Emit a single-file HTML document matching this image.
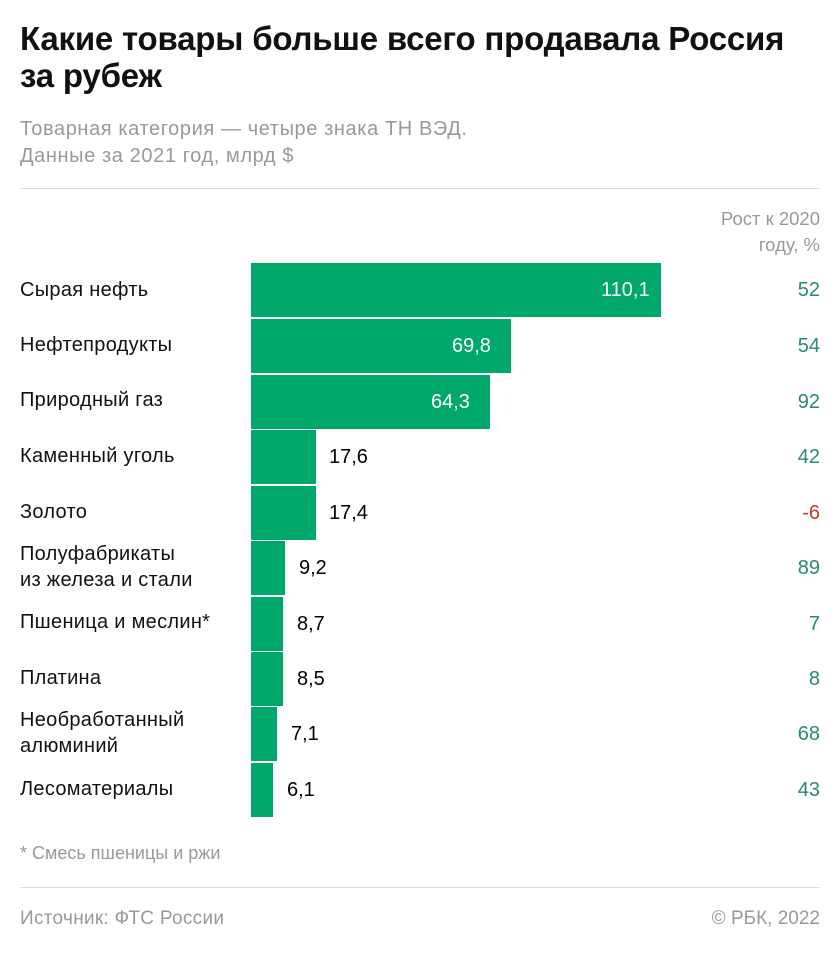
<!DOCTYPE html>
<html><head><meta charset="utf-8"><style>
body{margin:0;background:#fff;width:840px;height:955px;position:relative;font-family:"Liberation Sans",sans-serif;overflow:hidden}
.a{position:absolute;white-space:nowrap}
h1{position:absolute;left:20px;top:20px;margin:0;font-size:33px;line-height:37px;font-weight:bold;color:#111;letter-spacing:-0.2px}
.sub{left:20px;color:#999;font-size:20px;line-height:27px;letter-spacing:0.6px}
.hr{position:absolute;left:20px;width:800px;height:1px;background:#ddd}
.lab{left:20px;font-size:20px;color:#111;line-height:26px;letter-spacing:0.3px}
.bar{position:absolute;left:251px;height:54px;background:#00a86b}
.v{font-size:20px;line-height:54px}
.g{right:20px;font-size:20px;color:#2a8a68;line-height:54px}
</style></head><body>
<h1>Какие товары больше всего продавала Россия<br>за рубеж</h1>
<div class="a sub" style="top:116px">Товарная категория — четыре знака ТН ВЭД.<br>Данные за 2021 год, млрд $</div>
<div class="hr" style="top:188px"></div>
<div class="a" style="right:20px;top:206px;text-align:right;color:#999;font-size:18.5px;line-height:26px">Рост к 2020<br>году, %</div>

<div class="a lab" style="top:277px">Сырая нефть</div>
<div class="bar" style="top:263px;width:410px"></div>
<div class="a v" style="top:263px;left:601px;color:#fff">110,1</div>
<div class="a g" style="top:263px">52</div>

<div class="a lab" style="top:332px">Нефтепродукты</div>
<div class="bar" style="top:319px;width:260px"></div>
<div class="a v" style="top:319px;left:452px;color:#fff">69,8</div>
<div class="a g" style="top:319px">54</div>

<div class="a lab" style="top:387px">Природный газ</div>
<div class="bar" style="top:375px;width:239px"></div>
<div class="a v" style="top:375px;left:431px;color:#fff">64,3</div>
<div class="a g" style="top:375px">92</div>

<div class="a lab" style="top:443px">Каменный уголь</div>
<div class="bar" style="top:430px;width:65px"></div>
<div class="a v" style="top:430px;left:329px">17,6</div>
<div class="a g" style="top:430px">42</div>

<div class="a lab" style="top:499px">Золото</div>
<div class="bar" style="top:486px;width:65px"></div>
<div class="a v" style="top:486px;left:329px">17,4</div>
<div class="a g" style="top:486px;color:#c0392b">-6</div>

<div class="a lab" style="top:541px">Полуфабрикаты<br>из железа и стали</div>
<div class="bar" style="top:541px;width:34px"></div>
<div class="a v" style="top:541px;left:299px">9,2</div>
<div class="a g" style="top:541px">89</div>

<div class="a lab" style="top:609px">Пшеница и меслин*</div>
<div class="bar" style="top:597px;width:32px"></div>
<div class="a v" style="top:597px;left:297px">8,7</div>
<div class="a g" style="top:597px">7</div>

<div class="a lab" style="top:665px">Платина</div>
<div class="bar" style="top:652px;width:32px"></div>
<div class="a v" style="top:652px;left:297px">8,5</div>
<div class="a g" style="top:652px">8</div>

<div class="a lab" style="top:707px">Необработанный<br>алюминий</div>
<div class="bar" style="top:707px;width:26px"></div>
<div class="a v" style="top:707px;left:291px">7,1</div>
<div class="a g" style="top:707px">68</div>

<div class="a lab" style="top:776px">Лесоматериалы</div>
<div class="bar" style="top:763px;width:22px"></div>
<div class="a v" style="top:763px;left:287px">6,1</div>
<div class="a g" style="top:763px">43</div>

<div class="a" style="left:20px;top:843px;color:#999;font-size:18px">* Смесь пшеницы и ржи</div>
<div class="hr" style="top:887px"></div>
<div class="a" style="left:20px;top:908px;color:#999;font-size:19px;letter-spacing:0.3px">Источник: ФТС России</div>
<div class="a" style="right:20px;top:908px;color:#999;font-size:19px">© РБК, 2022</div>
</body></html>
